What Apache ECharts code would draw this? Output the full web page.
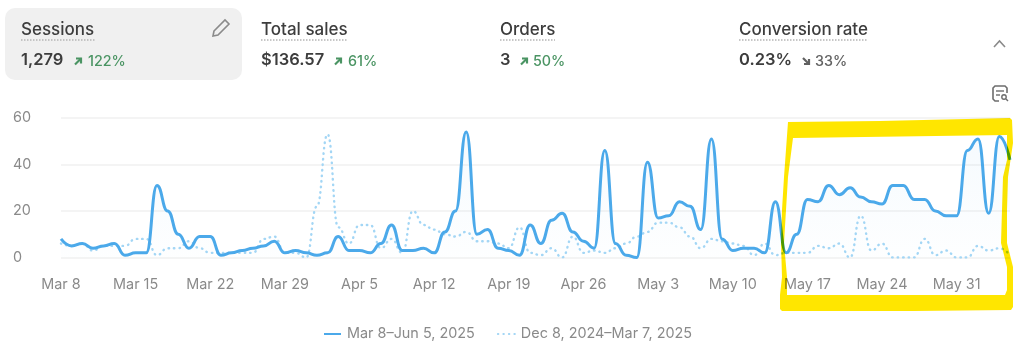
<!DOCTYPE html>
<html>
<head>
<meta charset="utf-8">
<style>
  html, body { margin: 0; padding: 0; background: #fff; }
  #chart { width: 1024px; height: 356px; }
</style>
<script src="https://cdn.jsdelivr.net/npm/echarts@6/dist/echarts.min.js"></script>
</head>
<body>
<div id="chart"></div>
<script>
const days = [
  'Mar 8','Mar 9','Mar 10','Mar 11','Mar 12','Mar 13','Mar 14','Mar 15','Mar 16','Mar 17','Mar 18','Mar 19','Mar 20','Mar 21',
  'Mar 22','Mar 23','Mar 24','Mar 25','Mar 26','Mar 27','Mar 28','Mar 29','Mar 30','Mar 31','Apr 1','Apr 2','Apr 3','Apr 4',
  'Apr 5','Apr 6','Apr 7','Apr 8','Apr 9','Apr 10','Apr 11','Apr 12','Apr 13','Apr 14','Apr 15','Apr 16','Apr 17','Apr 18',
  'Apr 19','Apr 20','Apr 21','Apr 22','Apr 23','Apr 24','Apr 25','Apr 26','Apr 27','Apr 28','Apr 29','Apr 30','May 1','May 2',
  'May 3','May 4','May 5','May 6','May 7','May 8','May 9','May 10','May 11','May 12','May 13','May 14','May 15','May 16',
  'May 17','May 18','May 19','May 20','May 21','May 22','May 23','May 24','May 25','May 26','May 27','May 28','May 29','May 30',
  'May 31','Jun 1','Jun 2','Jun 3','Jun 4','Jun 5'
]
const currentName = 'Mar 8–Jun 5, 2025'
const previousName = 'Dec 8, 2024–Mar 7, 2025'
const current = [
  8, 5, 6, 4, 5, 6, 1, 2, 2, 31, 20, 10, 4, 9,
  9, 1, 2, 3, 4, 5, 7, 2, 3, 2, 1, 2, 9, 3,
  3, 2, 6, 14, 3, 3, 4, 2, 11, 20, 54, 10, 12, 4,
  3, 1, 14, 6, 16, 19, 11, 7, 4, 46, 6, 1, 0, 41,
  17, 18, 24, 22, 12, 51, 8, 3, 4, 4, 2, 24, 2, 10,
  25, 24, 31, 27, 30, 26, 24, 23, 31, 31, 25, 25, 20, 18,
  18, 46, 51, 19, 52, 42
]
const previous = [
  6, 5, 6, 3, 5, 5, 5, 8, 8, 1, 4, 4, 7, 4,
  2, 2, 2, 2, 2, 8, 9, 2, 2, 0, 22, 53, 13, 6,
  14, 14, 4, 8, 2, 20, 14, 12, 10, 9, 11, 7, 7, 6,
  4, 13, 2, 1, 4, 0, 9, 2, 3, 2, 4, 6, 9, 11,
  15, 15, 13, 9, 4, 8, 7, 6, 5, 1, 6, 1, 2, 2,
  2, 5, 4, 6, 0, 18, 3, 6, 0, 0, 0, 8, 1, 3,
  0, 0, 5, 3, 4, 1
]
const yTicks = [0, 20, 40, 60]
const kpiTitles = ['Sessions', 'Total sales', 'Orders', 'Conversion rate']
const kpiValues = ['1,279', '$136.57', '3', '0.23%']
const kpiDeltas = ['122%', '61%', '50%', '33%']

const INK = '#3d3d3d'
const GREEN = '#4a9463'
const GREY = '#616161'
const kpiX = [21, 261, 500, 739]
const titleWidth = [74, 87, 55, 129]
const arrowX = [75, 335, 521, 803]
const deltaX = [88, 348, 533, 815]

// hand drawn highlight round the last weeks, multiplied so the line shows through green
const highlight = [
  [788, 122], [880, 121], [1010, 118], [1012, 120], [1013, 143], [1008, 177], [1007, 210], [1007, 243], [1013, 267], [1013, 307], [1011, 310],
  [913, 311], [782, 311], [780, 309], [780, 295], [782, 277], [781, 243], [782, 210], [784, 177], [788, 122],
  [793, 138], [788, 177], [786, 210], [784, 243], [787, 277], [787, 295], [1005, 295], [1007, 290], [1007, 267], [1001, 243], [1002, 210], [1003, 177], [1007, 160], [1007, 135], [793, 138]
]

function arrow(x, up, color) {
  const a = up ? [[x, 64.5], [x + 6, 58.5]] : [[x, 58], [x + 6, 64]]
  const head = up ? [[x + 1, 58.5], [x + 6, 58.5], [x + 6, 63.5]] : [[x + 6, 59], [x + 6, 64], [x + 1, 64]]
  const style = { stroke: color, lineWidth: 2.2, fill: null }
  return [
    { type: 'polyline', shape: { points: a }, style },
    { type: 'polyline', shape: { points: head }, style }
  ]
}

function header() {
  const els = [
    { type: 'rect', shape: { x: 5, y: 8, width: 237, height: 72, r: 10 }, style: { fill: '#f0f0f0' } }
  ]
  kpiTitles.forEach((t, i) => {
    const up = i < 3
    els.push(
      { type: 'text', x: kpiX[i], y: 30, style: { text: t, fill: INK, font: '500 17px Inter', textVerticalAlign: 'middle' } },
      { type: 'line', shape: { x1: kpiX[i], y1: 40, x2: kpiX[i] + titleWidth[i], y2: 40 }, style: { stroke: '#b5b5b5', lineWidth: 1.5, lineDash: [1.5, 1.5] } },
      { type: 'text', x: kpiX[i], y: 60, style: { text: kpiValues[i], fill: INK, font: '600 16.5px Inter', textVerticalAlign: 'middle' } },
      { type: 'text', x: deltaX[i], y: 61.5, style: { text: kpiDeltas[i], fill: up ? GREEN : GREY, font: '500 14.3px Inter', textVerticalAlign: 'middle' } },
      ...arrow(arrowX[i], up, up ? GREEN : GREY)
    )
  })
  return els
}

function icons() {
  const grey = { stroke: '#8a8a8a', lineWidth: 1.6, fill: null }
  return [
    // pencil
    { type: 'polygon', shape: { points: [[214, 31], [225, 20], [229, 24], [218, 35], [213, 36]] }, style: grey },
    // chevron
    { type: 'polyline', shape: { points: [[994, 47], [999.5, 41], [1005, 47]] }, style: grey },
    // report search
    { type: 'polyline', shape: { points: [[999, 101], [995, 101], [993, 99], [993, 88], [995, 86], [1005, 86], [1007, 88], [1007, 93]] }, style: { stroke: '#6d6d6d', lineWidth: 1.6, fill: null } },
    { type: 'line', shape: { x1: 996, y1: 91, x2: 1004, y2: 91 }, style: { stroke: '#6d6d6d', lineWidth: 1.4 } },
    { type: 'line', shape: { x1: 996, y1: 95, x2: 1000, y2: 95 }, style: { stroke: '#6d6d6d', lineWidth: 1.4 } },
    { type: 'circle', shape: { cx: 1004, cy: 97, r: 2.2 }, style: { stroke: '#6d6d6d', lineWidth: 1.4, fill: null } },
    { type: 'line', shape: { x1: 1006, y1: 99, x2: 1008, y2: 101 }, style: { stroke: '#6d6d6d', lineWidth: 1.4 } }
  ]
}

const chart = echarts.init(document.getElementById('chart'))
chart.setOption({
  animation: false,
  backgroundColor: '#fff',
  textStyle: { fontFamily: 'Inter' },
  grid: { left: 61, right: 14, top: 118, bottom: 98.5 },
  legend: {
    data: [currentName, previousName],
    bottom: 10,
    left: 318,
    itemWidth: 17,
    itemGap: 22,
    itemStyle: { opacity: 0 }, // line only, no dot on the key
    textStyle: { color: '#8a8a8a', fontSize: 14.4, fontFamily: 'Inter', padding: [0, 0, 0, 1] }
  },
  xAxis: {
    type: 'category',
    data: days,
    boundaryGap: false,
    axisLine: { show: false },
    axisTick: { show: false },
    axisLabel: { interval: 6, color: '#8a8a8a', fontSize: 14.4, margin: 20 }
  },
  yAxis: {
    type: 'value',
    min: yTicks[0],
    max: yTicks[yTicks.length - 1],
    interval: 20,
    axisLine: { show: false },
    axisTick: { show: false },
    axisLabel: { color: '#8a8a8a', fontSize: 14.4, align: 'left', margin: 48 },
    splitLine: { lineStyle: { color: '#f1f1f1', width: 1.5 } }
  },
  series: [
    {
      name: previousName,
      type: 'line',
      data: previous,
      smooth: 0.5,
      smoothMonotone: 'x',
      symbol: 'none',
      color: '#a3d6f5',
      lineStyle: { width: 2.4, type: [0.5, 5], cap: 'round' }
    },
    {
      name: currentName,
      type: 'line',
      data: current,
      smooth: 0.5,
      smoothMonotone: 'x',
      symbol: 'none',
      color: '#4ba9ea',
      lineStyle: { width: 3 },
      areaStyle: {
        color: new echarts.graphic.LinearGradient(0, 0, 0, 1, [
          { offset: 0, color: 'rgba(75,169,234,0.08)' },
          { offset: 1, color: 'rgba(75,169,234,0.01)' }
        ])
      }
    }
  ],
  graphic: [
    ...header(),
    ...icons(),
    { type: 'polygon', z: 100, shape: { points: highlight }, style: { fill: '#ffe600', blend: 'multiply' } }
  ]
})
</script>
</body>
</html>
